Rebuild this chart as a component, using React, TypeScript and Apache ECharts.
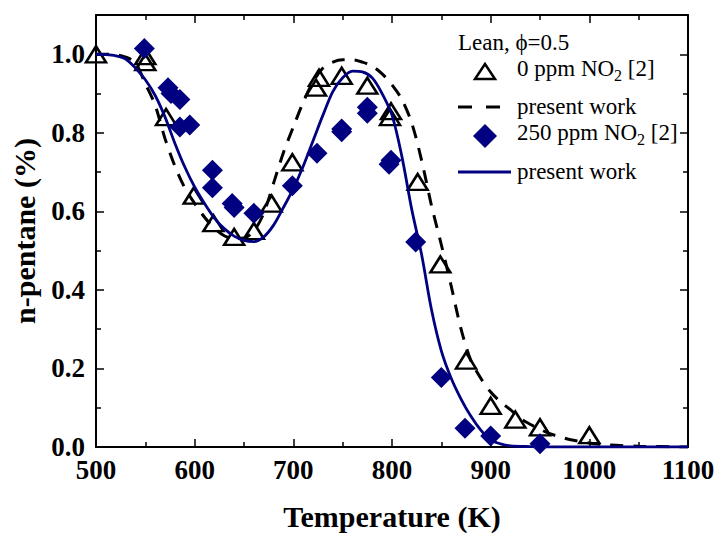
import React, { useEffect, useRef } from "react";
import * as echarts from "echarts";

// 0 ppm NO2 experimental data [2]
const expNoNO2: [number, number][] = [
  [500, 1.0], [550, 0.98], [550, 0.995], [571, 0.84], [599, 0.64], [619, 0.57],
  [640, 0.535], [660, 0.55], [678, 0.62], [699, 0.725], [723, 0.915],
  [726, 0.94], [749, 0.945], [775, 0.92], [798, 0.84], [799, 0.855],
  [826, 0.675], [849, 0.465], [875, 0.22], [900, 0.105], [925, 0.07],
  [950, 0.05], [1000, 0.03],
];

// 250 ppm NO2 experimental data [2]
const expNO2: [number, number][] = [
  [549, 1.015], [573, 0.915], [576, 0.9], [585, 0.885], [585, 0.815],
  [595, 0.82], [618, 0.705], [618, 0.66], [638, 0.62], [640, 0.61],
  [660, 0.595], [699, 0.665], [724, 0.748], [749, 0.81], [749, 0.803],
  [775, 0.85], [775, 0.865], [797, 0.72], [799, 0.73], [824, 0.522],
  [850, 0.177], [874, 0.048], [900, 0.028], [950, 0.008],
];

// model, 0 ppm NO2 (dashed)
const modelNoNO2: [number, number][] = [
  [500, 1.0], [510, 1.0], [520, 0.999], [530, 0.993], [540, 0.978],
  [550, 0.925], [560, 0.87], [570, 0.785], [580, 0.715], [590, 0.66],
  [600, 0.62], [610, 0.585], [620, 0.557], [630, 0.538], [640, 0.531],
  [650, 0.532], [660, 0.55], [670, 0.595], [680, 0.672], [690, 0.75],
  [700, 0.815], [710, 0.878], [720, 0.93], [730, 0.965], [740, 0.98],
  [750, 0.986], [760, 0.986], [770, 0.98], [780, 0.97], [790, 0.95],
  [800, 0.922], [810, 0.885], [820, 0.825], [830, 0.73], [840, 0.615],
  [850, 0.515], [860, 0.41], [870, 0.3], [880, 0.22], [890, 0.175],
  [900, 0.14], [910, 0.115], [920, 0.095], [930, 0.073], [940, 0.058],
  [950, 0.045], [960, 0.034], [970, 0.026], [980, 0.019], [1000, 0.01],
  [1020, 0.005], [1050, 0.002], [1100, 0.0],
];

// model, 250 ppm NO2 (solid)
const modelNO2: [number, number][] = [
  [500, 1.0], [510, 0.999], [520, 0.996], [530, 0.988], [540, 0.965],
  [550, 0.935], [560, 0.895], [570, 0.84], [580, 0.773], [590, 0.713],
  [600, 0.662], [610, 0.62], [620, 0.583], [630, 0.556], [640, 0.537],
  [650, 0.526], [660, 0.523], [670, 0.535], [680, 0.565], [690, 0.61],
  [700, 0.658], [710, 0.715], [720, 0.78], [730, 0.845], [740, 0.905],
  [750, 0.94], [760, 0.957], [770, 0.955], [780, 0.94], [790, 0.9],
  [800, 0.845], [810, 0.74], [820, 0.605], [830, 0.49], [840, 0.35],
  [850, 0.245], [860, 0.175], [870, 0.122], [880, 0.078], [890, 0.043],
  [900, 0.018], [910, 0.008], [920, 0.003], [940, 0.001], [960, 0.0],
  [1100, 0.0],
];

const xTicks = { min: 500, max: 1100, interval: 100 };
const yTicks = { min: 0, max: 1.1, interval: 0.2 };

const NAVY = "#000080";
const FONT = "'Liberation Serif', 'Times New Roman', serif";

export default function App() {
  const ref = useRef<HTMLDivElement>(null);
  useEffect(() => {
    if (!ref.current) return;
    const chart = echarts.init(ref.current, undefined, { renderer: "svg" });
    const axisCommon = {
      axisLine: { show: true, onZero: false, lineStyle: { color: "#000", width: 2 } },
      axisTick: { show: true, inside: true, length: 8, lineStyle: { color: "#000", width: 1.5 } },
      minorTick: { show: true, splitNumber: 2, length: 5, lineStyle: { color: "#000", width: 1.5 } },
      splitLine: { show: false },
      minorSplitLine: { show: false },
    };
    const labelStyle = {
      fontFamily: FONT,
      fontWeight: "bold" as const,
      fontSize: 27,
      color: "#000",
    };
    const titleStyle = { fontFamily: FONT, fontWeight: "bold" as const, fontSize: 30, color: "#000" };
    const legendText = {
      fontFamily: FONT,
      fontSize: 23,
      fill: "#000",
    };
    const richSub = {
      a: { fontFamily: FONT, fontSize: 23, lineHeight: 30, color: "#000" },
      s: { fontFamily: FONT, fontSize: 16, lineHeight: 10, verticalAlign: "bottom" as const, color: "#000" },
    };
    chart.setOption({
      animation: false,
      backgroundColor: "#fff",
      grid: { left: 96, right: 31, top: 15, bottom: 86, containLabel: false },
      xAxis: [
        {
          type: "value",
          position: "bottom",
          ...xTicks,
          ...axisCommon,
          axisLabel: { ...labelStyle, margin: 9, formatter: (v: number) => String(v) },
          name: "Temperature (K)",
          nameLocation: "middle",
          nameGap: 54,
          nameTextStyle: titleStyle,
        },
        {
          type: "value",
          position: "top",
          ...xTicks,
          ...axisCommon,
          axisLabel: { show: false },
        },
      ],
      yAxis: [
        {
          type: "value",
          position: "left",
          ...yTicks,
          ...axisCommon,
          axisLabel: {
            ...labelStyle,
            margin: 11,
            showMaxLabel: false,
            formatter: (v: number) => (v > 1.05 ? "" : v.toFixed(1)),
          },
          name: "n-pentane (%)",
          nameLocation: "middle",
          nameGap: 57,
          nameTextStyle: titleStyle,
        },
        {
          type: "value",
          position: "right",
          ...yTicks,
          ...axisCommon,
          axisLabel: { show: false },
        },
      ],
      series: [
        {
          name: "0 ppm NO2 [2]",
          type: "scatter",
          data: expNoNO2,
          symbol: "triangle",
          symbolSize: [20, 16],
          itemStyle: { color: "rgba(255,255,255,0)", borderColor: "#000", borderWidth: 2.5, opacity: 1 },
          z: 3,
        },
        {
          name: "present work (0 ppm)",
          type: "line",
          data: modelNoNO2,
          showSymbol: false,
          symbol: "none",
          smooth: 0.3,
          lineStyle: { color: "#000", width: 3, type: [13, 10] },
          z: 2,
        },
        {
          name: "250 ppm NO2 [2]",
          type: "scatter",
          data: expNO2,
          symbol: "diamond",
          symbolSize: 21,
          itemStyle: { color: NAVY, opacity: 1 },
          z: 4,
        },
        {
          name: "present work (250 ppm)",
          type: "line",
          data: modelNO2,
          showSymbol: false,
          symbol: "none",
          smooth: 0.3,
          lineStyle: { color: NAVY, width: 2.8 },
          z: 5,
        },
      ],
      graphic: [
        {
          type: "text",
          left: 458,
          top: 31,
          style: { text: "Lean, \u03D5=0.5", ...legendText },
        },
        {
          type: "polygon",
          shape: { points: [[485, 64], [475, 79], [495, 79]] },
          style: { fill: "none", stroke: "#000", lineWidth: 2.5 },
        },
        {
          type: "text",
          left: 517,
          top: 57,
          style: { text: "{a|0 ppm NO}{s|2}{a| [2]}", rich: richSub },
        },
        {
          type: "line",
          shape: { x1: 458, y1: 107, x2: 504, y2: 107 },
          style: { stroke: "#000", lineWidth: 3, lineDash: [14, 14] },
        },
        {
          type: "text",
          left: 517,
          top: 95,
          style: { text: "present work", ...legendText },
        },
        {
          type: "polygon",
          shape: { points: [[485, 124], [497, 136], [485, 148], [473, 136]] },
          style: { fill: NAVY },
        },
        {
          type: "text",
          left: 517,
          top: 121,
          style: { text: "{a|250 ppm NO}{s|2}{a| [2]}", rich: richSub },
        },
        {
          type: "line",
          shape: { x1: 458, y1: 172, x2: 511, y2: 172 },
          style: { stroke: NAVY, lineWidth: 3 },
        },
        {
          type: "text",
          left: 517,
          top: 160,
          style: { text: "present work", ...legendText },
        },
      ],
    });
    return () => chart.dispose();
  }, []);
  return (
    <div
      ref={ref}
      style={{ position: "absolute", left: 0, top: 0, width: 719, height: 536 }}
    />
  );
}
